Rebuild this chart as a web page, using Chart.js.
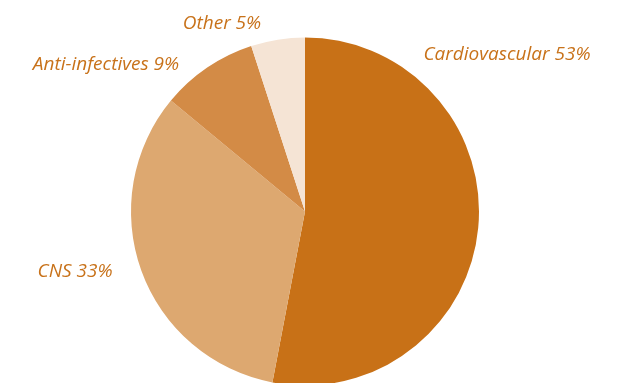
<!DOCTYPE html>
<html lang="en">
<head>
    <meta charset="UTF-8">
    <title>Therapeutic areas</title>
    <style>
        body {
            margin: 0;
            background-color: #fff;
            overflow: hidden;
        }

        #chart-container {
            width: 627px;
            height: 383px;
        }
    </style>
    <script src="https://cdn.jsdelivr.net/npm/chart.js"></script>
</head>
<body>
    <div id="chart-container">
        <canvas id="pie-chart"></canvas>
    </div>
    <script>
        const categories = ['Cardiovascular', 'CNS', 'Anti-infectives', 'Other'];
        const shares = [53, 33, 9, 5];
        const sliceColors = ['#C87117', '#DDA870', '#D38B46', '#F5E4D5'];

        // label anchors (text centre), placed by hand like the original
        const labelSpots = [
            { x: 507, y: 55 },
            { x: 75, y: 272 },
            { x: 106, y: 65 },
            { x: 222, y: 24 }
        ];

        const sliceLabels = {
            id: 'sliceLabels',
            afterDraw(chart) {
                const ctx = chart.ctx;
                ctx.save();
                ctx.font = 'italic 19px "Open Sans", sans-serif';
                ctx.fillStyle = '#C8721A';
                ctx.textAlign = 'center';
                ctx.textBaseline = 'middle';
                categories.forEach((name, i) => {
                    const spot = labelSpots[i];
                    ctx.fillText(name + ' ' + shares[i] + '%', spot.x, spot.y);
                });
                ctx.restore();
            }
        };

        const ctx = document.getElementById('pie-chart').getContext('2d');
        new Chart(ctx, {
            type: 'pie',
            data: {
                labels: categories,
                datasets: [{
                    data: shares,
                    backgroundColor: sliceColors,
                    borderWidth: 0,
                    radius: 174
                }]
            },
            options: {
                responsive: true,
                maintainAspectRatio: false,
                animation: false,
                layout: {
                    padding: { top: 40, bottom: 0, left: 0, right: 17 }
                },
                plugins: {
                    legend: { display: false },
                    tooltip: { enabled: false }
                }
            },
            plugins: [sliceLabels]
        });
    </script>
</body>
</html>
